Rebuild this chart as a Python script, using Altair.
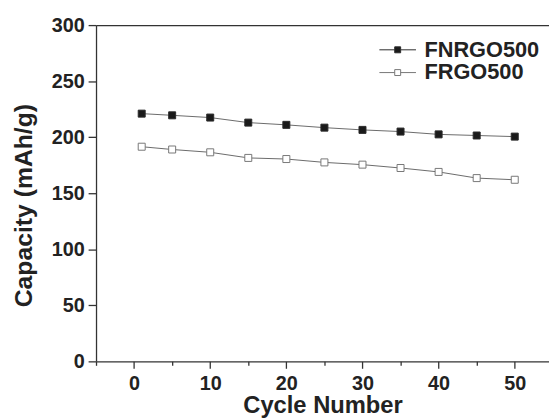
import altair as alt
import pandas as pd

cycles = [1, 5, 10, 15, 20, 25, 30, 35, 40, 45, 50]
fnrgo500 = [221, 219.5, 217.5, 213, 211, 208.5, 206.5, 205, 202.5, 201.5, 200.5]
frgo500 = [191.5, 189, 186.5, 181.5, 180.5, 177.5, 175.5, 172.5, 169, 163.5, 162]
series_names = ["FNRGO500", "FRGO500"]
x_tick_values = [-5, 0, 5, 10, 15, 20, 25, 30, 35, 40, 45, 50]
y_tick_values = [0, 25, 50, 75, 100, 125, 150, 175, 200, 225, 250, 275, 300]

df = pd.DataFrame({
    "cycle": cycles + cycles,
    "capacity": fnrgo500 + frgo500,
    "series": [series_names[0]] * len(cycles) + [series_names[1]] * len(cycles),
})

FONT = "Liberation Sans"
AX = "#333333"
TXT = "#222222"

x_scale = alt.Scale(domain=[-5, 54.5], nice=False, zero=False)
y_scale = alt.Scale(domain=[0, 300], nice=False)

x_axis = alt.Axis(
    values=x_tick_values,
    labelExpr="datum.value % 10 === 0 ? datum.label : ''",
    tickSize={"condition": {"test": "datum.value % 10 === 0", "value": 7}, "value": 4},
    grid=False, domainColor=AX, domainWidth=1.3, tickColor=AX, tickWidth=1.3,
    labelFont=FONT, labelFontSize=20, labelFontWeight="bold", labelColor=TXT,
    labelPadding=5, labelFlush=False,
    titleFont=FONT, titleFontSize=24, titleFontWeight="bold", titleColor=TXT,
    titlePadding=1,
)
y_axis = alt.Axis(
    values=y_tick_values,
    labelExpr="datum.value % 50 === 0 ? datum.label : ''",
    tickSize={"condition": {"test": "datum.value % 50 === 0", "value": 8}, "value": 4},
    grid=False, domainColor=AX, domainWidth=1.3, tickColor=AX, tickWidth=1.3,
    labelFont=FONT, labelFontSize=20, labelFontWeight="bold", labelColor=TXT,
    labelPadding=4, labelFlush=False,
    titleFont=FONT, titleFontSize=25, titleFontWeight="bold", titleColor=TXT,
    titleAngle=-90, titleX=-65, titleY=182, titleAlign="center", titleBaseline="alphabetic",
)

symbol_path = "M-3.7,0H-0.6M0.6,0H3.7M-0.6,-0.6H0.6V0.6H-0.6Z"
legend = alt.Legend(
    orient="none", legendX=294, legendY=14, title=None,
    symbolType=symbol_path, symbolSize=100, symbolStrokeWidth=1,
    labelFont=FONT, labelFontSize=22, labelFontWeight="bold", labelColor=TXT,
    labelOffset=16, rowPadding=1,
)

line = alt.Chart(df).mark_line(color="#6a6a6a", strokeWidth=1).encode(
    x=alt.X("cycle:Q", scale=x_scale, axis=x_axis, title="Cycle Number"),
    y=alt.Y("capacity:Q", scale=y_scale, axis=y_axis, title="Capacity (mAh/g)"),
    detail="series:N",
)

pts = alt.Chart(df).mark_square(size=50, strokeWidth=1, opacity=1).encode(
    x=alt.X("cycle:Q", scale=x_scale, axis=None),
    y=alt.Y("capacity:Q", scale=y_scale),
    fill=alt.Fill("series:N", scale=alt.Scale(domain=series_names, range=["#1a1a1a", "#ffffff"]), legend=legend),
    stroke=alt.Stroke("series:N", scale=alt.Scale(domain=series_names, range=["#2a2a2a", "#777777"]), legend=legend),
)

top = alt.Chart(df).mark_point(opacity=0).encode(
    x=alt.X("cycle:Q", scale=x_scale,
            axis=alt.Axis(orient="top", labels=False, ticks=False, title=None, grid=False,
                          domainColor=AX, domainWidth=1.3)),
    y=alt.Y("capacity:Q", scale=y_scale),
)

chart = alt.layer(line, pts, top).resolve_axis(x="independent").properties(
    width=458, height=340,
    autosize=alt.AutoSizeParams(type="none"),
    padding={"left": 89, "top": 15, "right": 0, "bottom": 56},
    background="white",
).configure_view(stroke=None)

chart.save("out.html", embed_options={"renderer": "svg", "actions": False})
